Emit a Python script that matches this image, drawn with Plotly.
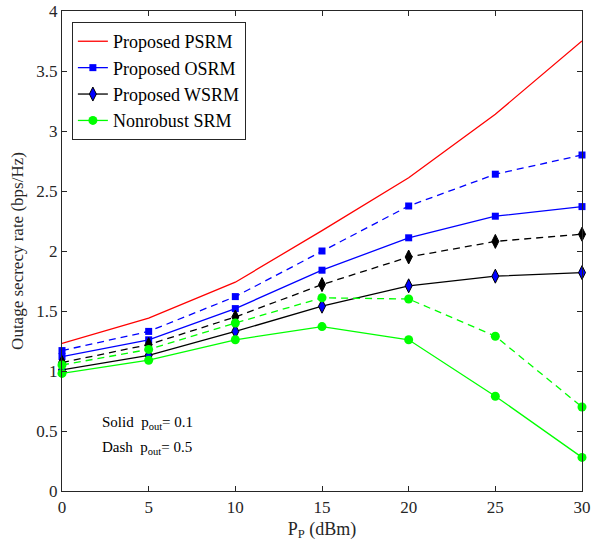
import plotly.graph_objects as go

pp = [0, 5, 10, 15, 20, 25, 30]

psrm_solid = [1.23, 1.44, 1.74, 2.17, 2.61, 3.14, 3.75]
osrm_solid = [1.12, 1.26, 1.52, 1.84, 2.11, 2.29, 2.37]
osrm_dash = [1.17, 1.33, 1.62, 2.00, 2.375, 2.64, 2.80]
wsrm_solid = [1.01, 1.13, 1.33, 1.54, 1.71, 1.79, 1.82]
wsrm_dash = [1.07, 1.22, 1.45, 1.72, 1.95, 2.08, 2.14]
nr_solid = [0.98, 1.09, 1.26, 1.37, 1.26, 0.79, 0.28]
nr_dash = [1.05, 1.18, 1.40, 1.61, 1.60, 1.29, 0.70]

FONT = "Times New Roman, Liberation Serif, Times, serif"
DASH = "7px,5px"

fig = go.Figure()

fig.add_trace(go.Scatter(x=pp, y=psrm_solid, mode="lines", name="Proposed PSRM", cliponaxis=False,
                         line=dict(color="#ff0000", width=1.3)))
fig.add_trace(go.Scatter(x=pp, y=osrm_solid, mode="lines+markers", name="Proposed OSRM", cliponaxis=False,
                         line=dict(color="#0000ff", width=1.3),
                         marker=dict(symbol="square", size=7, color="#0000ff")))
fig.add_trace(go.Scatter(x=pp, y=wsrm_solid, mode="lines+markers", name="Proposed WSRM", cliponaxis=False,
                         line=dict(color="#000000", width=1.3),
                         marker=dict(symbol="diamond-tall", size=10, color="#0000ff",
                                     line=dict(color="#000000", width=1))))
fig.add_trace(go.Scatter(x=pp, y=nr_solid, mode="lines+markers", name="Nonrobust SRM", cliponaxis=False,
                         line=dict(color="#00ff00", width=1.3),
                         marker=dict(symbol="circle", size=9, color="#00ff00")))

fig.add_trace(go.Scatter(x=pp, y=osrm_dash, mode="lines+markers", showlegend=False, cliponaxis=False,
                         line=dict(color="#0000ff", width=1.3, dash=DASH),
                         marker=dict(symbol="square", size=7, color="#0000ff")))
fig.add_trace(go.Scatter(x=pp, y=wsrm_dash, mode="lines+markers", showlegend=False, cliponaxis=False,
                         line=dict(color="#000000", width=1.3, dash=DASH),
                         marker=dict(symbol="diamond-tall", size=10, color="#000000",
                                     line=dict(color="#000000", width=1))))
fig.add_trace(go.Scatter(x=pp, y=nr_dash, mode="lines+markers", showlegend=False, cliponaxis=False,
                         line=dict(color="#00ff00", width=1.3, dash=DASH),
                         marker=dict(symbol="circle", size=9, color="#00ff00")))

fig.add_annotation(x=2.2, y=0.57, xref="x", yref="y", xanchor="left", yanchor="middle",
                   text="Solid  p<sub>out</sub>= 0.1", showarrow=False,
                   font=dict(family=FONT, size=15, color="black"))
fig.add_annotation(x=2.2, y=0.36, xref="x", yref="y", xanchor="left", yanchor="middle",
                   text="Dash  p<sub>out</sub>= 0.5", showarrow=False,
                   font=dict(family=FONT, size=15, color="black"))

axis_common = dict(showline=True, linecolor="#262626", linewidth=1.3, mirror="ticks",
                   ticks="inside", ticklen=5, tickcolor="#262626", showgrid=False,
                   zeroline=False, automargin=False,
                   tickfont=dict(family=FONT, size=17, color="#262626"))

fig.update_xaxes(range=[0, 30], tickvals=[0, 5, 10, 15, 20, 25, 30],
                 title=dict(text="P<sub>P</sub> (dBm)", font=dict(family=FONT, size=18, color="#262626"),
                            standoff=6),
                 **axis_common)
fig.update_yaxes(range=[0, 4], tickvals=[0, 0.5, 1, 1.5, 2, 2.5, 3, 3.5, 4],
                 ticktext=["0", "0.5", "1", "1.5", "2", "2.5", "3", "3.5", "4"],
                 title=dict(text="Outage secrecy rate (bps/Hz)", font=dict(family=FONT, size=17, color="#262626"),
                            standoff=8),
                 **axis_common)

fig.update_layout(
    width=592, height=550,
    margin=dict(l=62, r=10, t=11, b=59),
    paper_bgcolor="white", plot_bgcolor="white",
    showlegend=True,
    legend=dict(x=0.019, y=0.977, xanchor="left", yanchor="top",
                bgcolor="white", bordercolor="#262626", borderwidth=1,
                font=dict(family=FONT, size=18, color="black"),
                tracegroupgap=0, itemwidth=30),
)

fig.write_html("out.html", config={"displayModeBar": False},
               post_script="document.body.style.margin='0';")
